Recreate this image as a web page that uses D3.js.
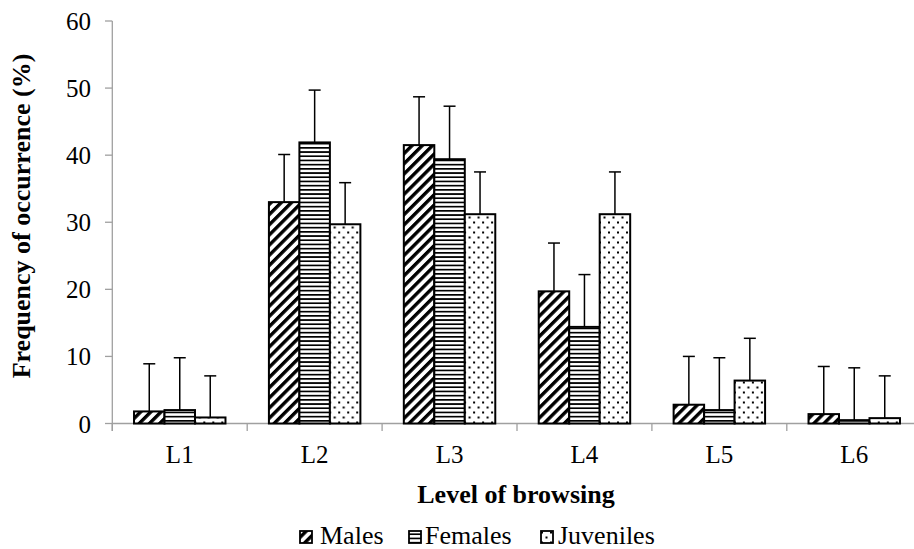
<!DOCTYPE html>
<html>
<head>
<meta charset="utf-8">
<script src="https://cdn.jsdelivr.net/npm/d3@7"></script>
<style>
  html, body { margin: 0; padding: 0; background: #fff; }
  svg { display: block; font-family: "Liberation Serif", "Times New Roman", serif; }
</style>
</head>
<body>
<svg id="chart" width="914" height="549"></svg>
<script>
const categories = ["L1", "L2", "L3", "L4", "L5", "L6"];
const seriesNames = ["Males", "Females", "Juveniles"];
const males = [1.8, 33.0, 41.5, 19.7, 2.8, 1.4];
const females = [2.0, 41.9, 39.4, 14.4, 2.0, 0.5];
const juveniles = [0.9, 29.7, 31.2, 31.2, 6.4, 0.8];
const malesErr = [7.1, 7.1, 7.2, 7.2, 7.2, 7.1];
const femalesErr = [7.8, 7.8, 7.9, 7.8, 7.8, 7.8];
const juvenilesErr = [6.2, 6.2, 6.3, 6.3, 6.3, 6.3];
const yTicks = [0, 10, 20, 30, 40, 50, 60];

const seriesValues = [males, females, juveniles];
const seriesErrors = [malesErr, femalesErr, juvenilesErr];
const patternIds = ["pat-males", "pat-females", "pat-juveniles"];

const svg = d3.select("#chart");
const defs = svg.append("defs");

// Males: diagonal thick stripes "/"
const p1 = defs.append("pattern").attr("id", "pat-males")
  .attr("patternUnits", "userSpaceOnUse").attr("width", 7.2).attr("height", 7.2)
  .attr("patternTransform", "rotate(45)");
p1.append("rect").attr("width", 7.2).attr("height", 7.2).attr("fill", "#fff");
p1.append("rect").attr("width", 3.4).attr("height", 7.2).attr("fill", "#000");

// Females: horizontal lines
const p2 = defs.append("pattern").attr("id", "pat-females")
  .attr("patternUnits", "userSpaceOnUse").attr("width", 8).attr("height", 4.2);
p2.append("rect").attr("width", 8).attr("height", 4.2).attr("fill", "#fff");
p2.append("rect").attr("y", 0).attr("width", 8).attr("height", 1.7).attr("fill", "#000");

// Juveniles: sparse dots
const p3 = defs.append("pattern").attr("id", "pat-juveniles")
  .attr("patternUnits", "userSpaceOnUse").attr("width", 9).attr("height", 10);
p3.append("rect").attr("width", 9).attr("height", 10).attr("fill", "#fff");
p3.append("rect").attr("x", 1).attr("y", 1.5).attr("width", 2).attr("height", 2).attr("fill", "#000");
p3.append("rect").attr("x", 5.5).attr("y", 6.5).attr("width", 2).attr("height", 2).attr("fill", "#000");

const x0 = d3.scaleBand().domain(categories).range([112.3, 921.7]).paddingInner(0).paddingOuter(0);
const bw = x0.bandwidth();
const groupW = bw * 0.678;
const x1 = d3.scaleBand().domain(seriesNames).range([(bw - groupW) / 2, (bw + groupW) / 2]);
const y = d3.scaleLinear().domain([0, 60]).range([423.5, 21]);

const axisColor = "#a0a0a0";

// Y axis
const yAxis = svg.append("g");
yAxis.append("line").attr("x1", 112.3).attr("x2", 112.3).attr("y1", y(60)).attr("y2", 431)
  .attr("stroke", axisColor).attr("stroke-width", 1.3);
yAxis.selectAll("line.tick").data(yTicks).enter().append("line")
  .attr("class", "tick").attr("x1", 105).attr("x2", 112.3)
  .attr("y1", d => y(d)).attr("y2", d => y(d))
  .attr("stroke", axisColor).attr("stroke-width", 1.3);
yAxis.selectAll("text").data(yTicks).enter().append("text")
  .attr("x", 91).attr("y", d => y(d)).attr("dy", "0.36em")
  .attr("text-anchor", "end").attr("font-size", 25).attr("fill", "#000")
  .text(d => d);

// X axis
const xAxis = svg.append("g");
xAxis.append("line").attr("x1", 112.3).attr("x2", 921.7).attr("y1", y(0)).attr("y2", y(0))
  .attr("stroke", axisColor).attr("stroke-width", 1.3);
const boundaries = categories.map(c => x0(c)).concat([x0(categories[categories.length - 1]) + bw]);
xAxis.selectAll("line.tick").data(boundaries).enter().append("line")
  .attr("class", "tick").attr("x1", d => d).attr("x2", d => d)
  .attr("y1", y(0)).attr("y2", 431)
  .attr("stroke", axisColor).attr("stroke-width", 1.3);
xAxis.selectAll("text").data(categories).enter().append("text")
  .attr("x", d => x0(d) + bw / 2).attr("y", 463)
  .attr("text-anchor", "middle").attr("font-size", 25).attr("fill", "#000")
  .text(d => d);

// Bars
const groups = svg.append("g").selectAll("g").data(categories).enter().append("g")
  .attr("transform", d => `translate(${x0(d)},0)`);

seriesNames.forEach((s, si) => {
  groups.append("rect")
    .attr("x", (d) => x1(s))
    .attr("y", (d, i) => y(seriesValues[si][i]))
    .attr("width", x1.bandwidth())
    .attr("height", (d, i) => y(0) - y(seriesValues[si][i]))
    .attr("fill", `url(#${patternIds[si]})`)
    .attr("stroke", "#000").attr("stroke-width", 2);
});

// Error bars (upper only)
seriesNames.forEach((s, si) => {
  const cx = x1(s) + x1.bandwidth() / 2;
  groups.append("line")
    .attr("x1", cx).attr("x2", cx)
    .attr("y1", (d, i) => y(seriesValues[si][i]))
    .attr("y2", (d, i) => y(seriesValues[si][i] + seriesErrors[si][i]))
    .attr("stroke", "#000").attr("stroke-width", 1.5);
  groups.append("line")
    .attr("x1", cx - 6).attr("x2", cx + 6)
    .attr("y1", (d, i) => y(seriesValues[si][i] + seriesErrors[si][i]))
    .attr("y2", (d, i) => y(seriesValues[si][i] + seriesErrors[si][i]))
    .attr("stroke", "#000").attr("stroke-width", 1.5);
});

// Axis titles
svg.append("text").attr("x", 516).attr("y", 503)
  .attr("text-anchor", "middle").attr("font-size", 26).attr("font-weight", "bold")
  .text("Level of browsing");
svg.append("text")
  .attr("transform", "translate(30,216) rotate(-90)")
  .attr("text-anchor", "middle").attr("font-size", 26).attr("font-weight", "bold")
  .text("Frequency of occurrence (%)");

// Legend
const legendPos = [{ ix: 300, tx: 320 }, { ix: 409, tx: 425 }, { ix: 541, tx: 558 }];
const legend = svg.append("g");
seriesNames.forEach((s, si) => {
  legend.append("rect").attr("x", legendPos[si].ix).attr("y", 531)
    .attr("width", 12).attr("height", 12)
    .attr("fill", `url(#${patternIds[si]})`).attr("stroke", "#000").attr("stroke-width", 1.8);
  legend.append("text").attr("x", legendPos[si].tx).attr("y", 544)
    .attr("font-size", 26).attr("fill", "#000").text(s);
});
</script>
</body>
</html>
